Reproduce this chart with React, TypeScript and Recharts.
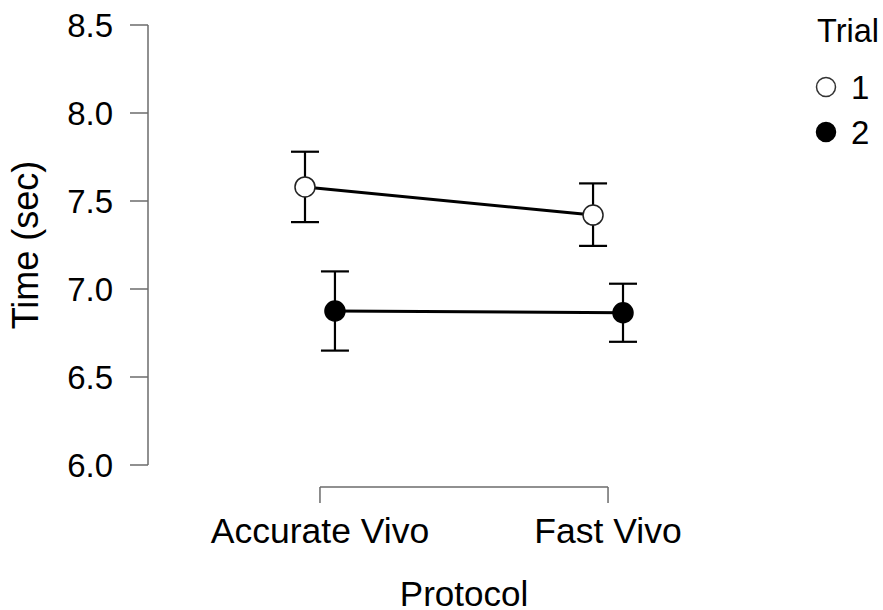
import {
  ComposedChart,
  Line,
  XAxis,
  YAxis,
  ErrorBar,
  ReferenceLine,
  Legend,
} from 'recharts';

const protocols = ['Accurate Vivo', 'Fast Vivo'];
const trials = ['1', '2'];

const trial1Mean = [7.58, 7.42];
const trial1Lower = [7.38, 7.245];
const trial1Upper = [7.78, 7.6];

const trial2Mean = [6.875, 6.865];
const trial2Lower = [6.65, 6.7];
const trial2Upper = [7.1, 7.03];

const yTicks = [6.0, 6.5, 7.0, 7.5, 8.0, 8.5];

// horizontal dodge between the two trials, in category units
const DODGE = 0.052;
const X_PAD = 0.597;
const BRACKET_Y = 5.875;
const AXIS_GREY = '#6b6b6b';
const FONT = '"Liberation Sans", Arial, sans-serif';

const buildSeries = (mean: number[], lower: number[], upper: number[], shift: number) =>
  mean.map((m, i) => ({
    x: i + 1 + shift,
    y: m,
    err: [m - lower[i], upper[i] - m],
  }));

const trial1Data = buildSeries(trial1Mean, trial1Lower, trial1Upper, -DODGE);
const trial2Data = buildSeries(trial2Mean, trial2Lower, trial2Upper, DODGE);

const ProtocolTick = ({ x, y, payload }: any) => (
  <g>
    <line x1={x} x2={x} y1={y + 22} y2={y + 38} stroke={AXIS_GREY} strokeWidth={1.5} />
    <text x={x} y={y + 78} textAnchor="middle" fontSize={35.5} fill="#000" fontFamily={FONT}>
      {protocols[Math.round(payload.value) - 1]}
    </text>
  </g>
);

const TrialLegend = () => (
  <svg width={83} height={160} style={{ fontFamily: FONT }}>
    <text x={17} y={42} fontSize={32.5} fill="#000">
      Trial
    </text>
    {trials.map((t, i) => (
      <g key={t}>
        <circle
          cx={26}
          cy={87 + i * 45}
          r={9.5}
          fill={i === 0 ? '#fff' : '#000'}
          stroke={i === 0 ? '#333' : '#000'}
          strokeWidth={1.5}
        />
        <text x={51} y={99 + i * 45} fontSize={33} fill="#000">
          {t}
        </text>
      </g>
    ))}
  </svg>
);

export default function App() {
  return (
    <div
      style={{
        position: 'fixed',
        left: 0,
        top: 0,
        width: 883,
        height: 610,
        background: '#fff',
        fontFamily: FONT,
      }}
    >
      <ComposedChart
        width={883}
        height={610}
        margin={{ top: 25, right: 103, bottom: 0, left: 0 }}
      >
        <XAxis
          dataKey="x"
          type="number"
          domain={[1 - X_PAD, 2 + X_PAD]}
          ticks={[1, 2]}
          axisLine={false}
          tickLine={false}
          tickSize={0}
          tickMargin={0}
          height={145}
          tick={<ProtocolTick />}
          label={{
            value: 'Protocol',
            position: 'insideBottom',
            offset: 4,
            fontSize: 35,
            fill: '#000',
          }}
        />
        <YAxis
          type="number"
          domain={[6, 8.5]}
          ticks={yTicks}
          width={148}
          tickSize={18}
          tickMargin={17}
          tickFormatter={(v: number) => v.toFixed(1)}
          axisLine={{ stroke: AXIS_GREY, strokeWidth: 1.5 }}
          tickLine={{ stroke: AXIS_GREY, strokeWidth: 1.5 }}
          tick={{ fontSize: 33, fill: '#000' }}
          label={{
            value: 'Time (sec)',
            angle: -90,
            position: 'insideLeft',
            offset: 25,
            fontSize: 36,
            fill: '#000',
            style: { textAnchor: 'middle' },
          }}
        />
        <ReferenceLine
          segment={[
            { x: 1, y: BRACKET_Y },
            { x: 2, y: BRACKET_Y },
          ]}
          stroke={AXIS_GREY}
          strokeWidth={1.5}
          ifOverflow="visible"
        />
        <Line
          data={trial1Data}
          dataKey="y"
          name={trials[0]}
          stroke="#000"
          strokeWidth={3}
          dot={{ r: 10, fill: '#fff', stroke: '#222', strokeWidth: 1.5 }}
          activeDot={false}
          isAnimationActive={false}
        >
          <ErrorBar dataKey="err" direction="y" width={14} stroke="#000" strokeWidth={2.2} />
        </Line>
        <Line
          data={trial2Data}
          dataKey="y"
          name={trials[1]}
          stroke="#000"
          strokeWidth={3}
          dot={{ r: 10, fill: '#000', stroke: '#000', strokeWidth: 1.5 }}
          activeDot={false}
          isAnimationActive={false}
        >
          <ErrorBar dataKey="err" direction="y" width={14} stroke="#000" strokeWidth={2.2} />
        </Line>
        <Legend
          layout="vertical"
          align="center"
          verticalAlign="middle"
          content={<TrialLegend />}
          wrapperStyle={{ left: 800, top: 0, width: 83, height: 160 }}
        />
      </ComposedChart>
    </div>
  );
}
